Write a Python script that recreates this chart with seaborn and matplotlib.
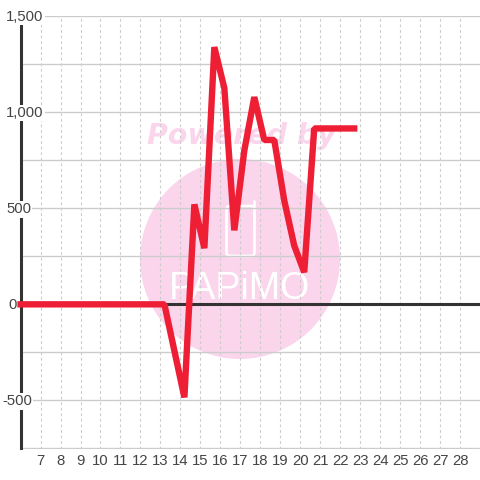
import matplotlib
matplotlib.use("Agg")
import matplotlib.pyplot as plt
from matplotlib.patches import Circle, FancyBboxPatch
from matplotlib.lines import Line2D
from matplotlib.transforms import blended_transform_factory, ScaledTranslation
import pandas as pd
import seaborn as sns

# values
day = [6, 6.2, 6.7, 7.2, 7.7, 8.2, 8.7, 9.2, 9.7, 10.2, 10.7, 11.2, 11.7, 12.2, 12.7,
       13.2, 14.2, 14.7, 15.2, 15.7, 16.2, 16.7, 17.2, 17.7, 18.2, 18.7, 19.2, 19.7,
       20.2, 20.7, 21.2, 21.7, 22.2, 22.7]
value = [0, 0, 0, 0, 0, 0, 0, 0, 0, 0, 0, 0, 0, 0, 0,
         0, -484, 520, 292, 1338, 1125, 385, 800, 1078, 855, 855, 540, 305,
         167, 915, 915, 915, 915, 915]
x_ticks = list(range(7, 29))
y_ticks = [-500, 0, 500, 1000, 1500]
y_labels = ["-500", "0", "500", "1,000", "1,500"]
y_label_left = [2, 8, 6, 6, 6]
y_grid = [-750, -500, -250, 0, 250, 500, 750, 1000, 1250, 1500]

RED = "#EE1F35"
DARK = "#333333"
GRID = "#CCCCCC"
PINK = "#FBD5EC"
TEXT = "#444444"

sns.set_theme(style="white")
plt.rcParams["font.family"] = ["Liberation Sans", "DejaVu Sans"]

fig = plt.figure(figsize=(4.8, 4.8), dpi=100, facecolor="white")
ax = fig.add_axes([20.6 / 480, 1 - 448.5 / 480, (480 - 20.6) / 480, (448.5 - 16) / 480])
ax.patch.set_alpha(0)

# watermark sits behind the axes, so negative zorder on the figure artists
fig.patches.append(Circle((240 / 480, 1 - 259 / 480), 100 / 480, transform=fig.transFigure,
                          facecolor=PINK, edgecolor="none", zorder=-5))
fig.text(241 / 480, 1 - 136 / 480, "Powered by", family="DejaVu Sans", weight="bold", style="oblique",
         fontsize=20.5, color=PINK, ha="center", va="center", zorder=-4)
fig.patches.append(FancyBboxPatch((226.5 / 480, 1 - 256 / 480), 28 / 480, 50 / 480,
                                  boxstyle="round,pad=0,rounding_size=0.008", transform=fig.transFigure,
                                  facecolor="none", edgecolor="white", linewidth=1.9, zorder=-3))
fig.lines.append(Line2D([254.5 / 480, 254.5 / 480], [1 - 225 / 480, 1 - 201 / 480], transform=fig.transFigure,
                        color="white", linewidth=1.9, solid_capstyle="round", zorder=-3))
fig.text(240 / 480, 1 - 289 / 480, "PAPiMO", family="Liberation Sans",
         fontsize=27, color="white", ha="center", va="center", zorder=-3)

df = pd.DataFrame({"day": day, "value": value})

ax.set_xlim(6, 29)
ax.set_ylim(-750, 1500)
ax.set_xticks(x_ticks)
ax.set_yticks(y_grid)
ax.set_yticklabels([])
ax.grid(True, axis="y", color=GRID, linewidth=1.0, linestyle="-")
ax.grid(True, axis="x", color=GRID, linewidth=0.8, linestyle=(0, (2.5, 2.5)))
ax.set_axisbelow(True)
ax.tick_params(axis="both", length=0)
ax.tick_params(axis="x", labelsize=10.7, labelcolor=TEXT, pad=4)

for s in ["top", "right", "bottom"]:
    ax.spines[s].set_visible(False)
ax.spines["left"].set_color(DARK)
ax.spines["left"].set_linewidth(2.2)
ax.spines["left"].set_zorder(2.5)

ax.axhline(0, color=DARK, linewidth=2.2, zorder=2.4)

# y labels have a white box that cuts through the axis line
tr = blended_transform_factory(fig.transFigure, ax.transData) + ScaledTranslation(0, -1 / 100, fig.dpi_scale_trans)
for v, lab, left in zip(y_ticks, y_labels, y_label_left):
    ax.text(left / 480, v, lab, transform=tr, ha="left", va="center", fontsize=10.7, color=TEXT,
            zorder=3, clip_on=False,
            bbox=dict(facecolor="white", edgecolor="none", pad=1.0))

sns.lineplot(data=df, x="day", y="value", ax=ax, color=RED, linewidth=4.6, errorbar=None,
             estimator=None, sort=False, zorder=4, clip_on=False,
             solid_capstyle="projecting", solid_joinstyle="bevel")
ax.set_xlabel("")
ax.set_ylabel("")

fig.savefig("out.png", dpi=100)
